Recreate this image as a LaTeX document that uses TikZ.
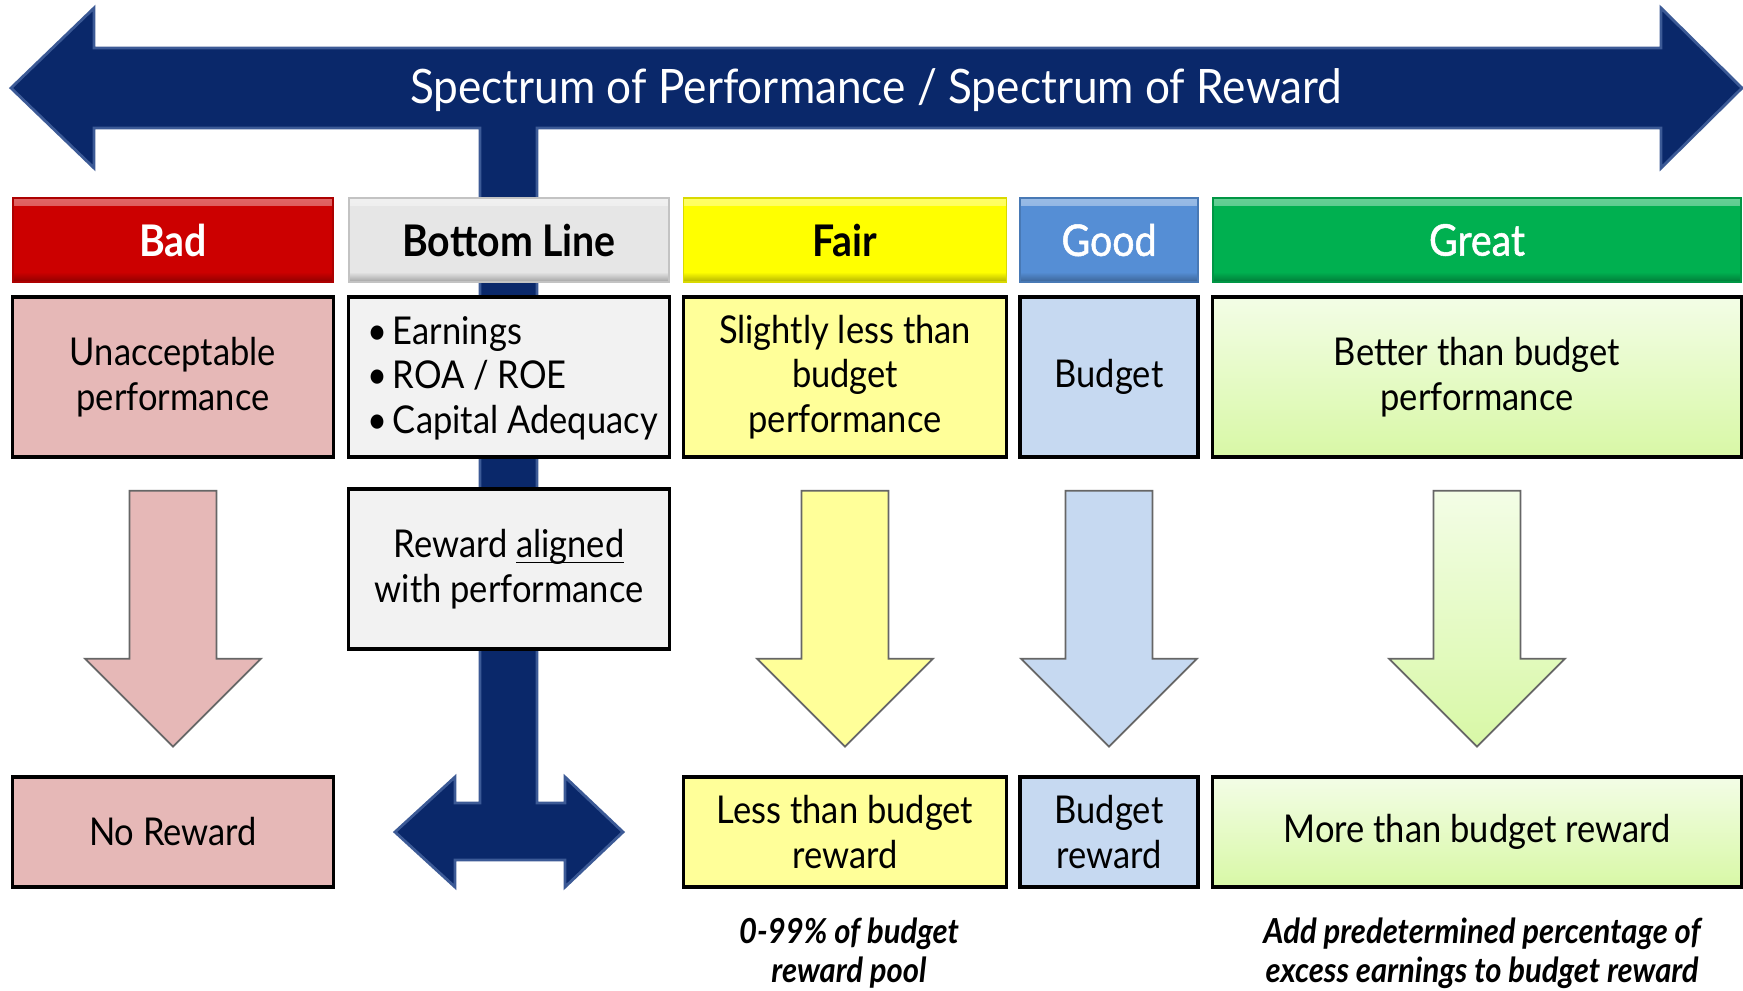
\documentclass[tikz,border=0pt]{standalone}
\usepackage{fontspec}
\setmainfont{Lato}[FakeStretch=0.9]
\newfontfamily\specfamily{Lato}[FakeStretch=0.93]
\newfontfamily\semifamily{Lato}[FakeStretch=0.9, FakeBold=1.2]

\definecolor{navy}{RGB}{10,40,106}
\definecolor{navyedge}{RGB}{60,90,150}
\definecolor{badred}{RGB}{204,0,0}
\definecolor{badpink}{RGB}{230,184,183}
\definecolor{blgray}{RGB}{230,230,230}
\definecolor{blpale}{RGB}{242,242,242}
\definecolor{fairyel}{RGB}{255,255,0}
\definecolor{fairpale}{RGB}{255,255,153}
\definecolor{goodblue}{RGB}{85,142,213}
\definecolor{goodpale}{RGB}{198,217,241}
\definecolor{greatgreen}{RGB}{0,176,80}
\definecolor{greattop}{RGB}{243,253,230}
\definecolor{greatbot}{RGB}{216,248,166}

\newcommand{\spectitlefont}{\specfamily\fontsize{13.5}{16}\selectfont}
\newcommand{\hdrfont}{\fontsize{12.4}{14}\selectfont}
\newcommand{\cellfont}{\fontsize{10.9}{12.66}\selectfont}
\newcommand{\notefont}{\fontsize{9.8}{11.1}\selectfont\bfseries\itshape}

\tikzset{
    hdr/.style={
        minimum height=0.84cm,
        inner sep=0pt,
        font=\hdrfont,
        fill=#1,
        draw=#1!85!black,
        line width=0.4pt,
        path picture={
            \shade[top color=#1!60!white, bottom color=#1]
                (path picture bounding box.north west)
                rectangle ([yshift=-0.08cm]path picture bounding box.north east);
            \shade[top color=#1, bottom color=#1!70!black]
                ([yshift=0.1cm]path picture bounding box.south west)
                rectangle (path picture bounding box.south east);
        }
    },
    cell/.style={
        draw=black,
        line width=0.9pt,
        inner sep=0pt,
        align=center,
        font=\cellfont,
        fill=#1
    },
    badfill/.style={fill=badpink},
    fairfill/.style={fill=fairpale},
    goodfill/.style={fill=goodpale},
    greatfill/.style={top color=greattop, bottom color=greatbot},
    blockline/.style={draw=black!60, line width=0.5pt},
    navyarrow/.style={fill=navy, draw=navyedge, line width=0.8pt},
    note/.style={align=center, font=\notefont}
}

\begin{document}
\begin{tikzpicture}[x=0.01cm, y=-0.01cm]

% Page frame
\useasboundingbox[fill=white] (0,0) rectangle (1743,990);

% Spectrum arrow with its stem and the lower double arrow
\path[navyarrow]
    (11,88) -- (94,8) -- (94,48) -- (1661,48) -- (1661,8) -- (1742,88)
    -- (1661,168) -- (1661,128) -- (537,128) -- (537,803) -- (565,803)
    -- (565,777) -- (623,832) -- (565,887) -- (565,860) -- (455,860)
    -- (455,887) -- (395,832) -- (455,777) -- (455,803) -- (480,803)
    -- (480,128) -- (94,128) -- (94,168) -- cycle;
\node[text=white, font=\spectitlefont] (spec) at (876,90)
    {Spectrum of Performance / Spectrum of Reward};

% Headers
\node[hdr=badred, minimum width=3.20cm, text=white] (bad) at (173,240) {\bfseries Bad};
\node[hdr=blgray, minimum width=3.20cm] (bottom) at (509,240) {\bfseries Bottom Line};
\node[hdr=fairyel, minimum width=3.23cm] (fair) at (845,240) {\bfseries Fair};
\node[hdr=goodblue, minimum width=1.78cm, text=white] (good) at (1109,240) {\semifamily Good};
\node[hdr=greatgreen, minimum width=5.28cm, text=white] (great) at (1477,240) {\semifamily Great};

% Performance boxes
\node[cell=badpink, minimum width=3.20cm, minimum height=1.6cm] (badtxt) at (173,377)
    {Unacceptable\\performance};
\node[cell=blpale, minimum width=3.20cm, minimum height=1.6cm] (bottomtxt) at (509,377) {};
\node[align=left, font=\cellfont, anchor=west, inner sep=0pt] (bottomlist) at (367,378)
    {\textbullet\hspace{1.5pt}Earnings\\\textbullet\hspace{1.5pt}ROA / ROE\\\textbullet\hspace{1.5pt}Capital Adequacy};
\node[cell=fairpale, minimum width=3.23cm, minimum height=1.6cm] (fairtxt) at (845,377)
    {Slightly less than\\budget\\performance};
\node[cell=goodpale, minimum width=1.78cm, minimum height=1.6cm] (goodtxt) at (1109,377) {Budget};
\node[cell, greatfill, minimum width=5.28cm, minimum height=1.6cm] (greattxt) at (1477,377)
    {Better than budget\\performance};

% Middle box on the stem
\node[cell=blpale, minimum width=3.20cm, minimum height=1.6cm] (aligned) at (509,569)
    {Reward \underbar{aligned}\\with performance};

% Down arrows
\foreach \n/\s in {badtxt/badfill, fairtxt/fairfill, goodtxt/goodfill, greattxt/greatfill}
    \path[blockline, \s] ([yshift=-0.32cm]\n.south) ++(-43.5,0) -- ++(0,168) -- ++(-44.5,0)
        -- ++(88,88) -- ++(88,-88) -- ++(-44.5,0) -- ++(0,-168) -- cycle;

% Reward boxes
\node[cell=badpink, minimum width=3.20cm, minimum height=1.1cm] (badrwd) at (173,832) {No Reward};
\node[cell=fairpale, minimum width=3.23cm, minimum height=1.1cm] (fairrwd) at (845,832)
    {Less than budget\\reward};
\node[cell=goodpale, minimum width=1.78cm, minimum height=1.1cm] (goodrwd) at (1109,832)
    {Budget\\reward};
\node[cell, greatfill, minimum width=5.28cm, minimum height=1.1cm] (greatrwd) at (1477,832)
    {More than budget reward};

% Notes
\node[note] (fairnote) at (849,953) {0-99\% of budget\\reward pool};
\node[note] (greatnote) at (1482,953) {Add predetermined percentage of\\excess earnings to budget reward};

\end{tikzpicture}
\end{document}
